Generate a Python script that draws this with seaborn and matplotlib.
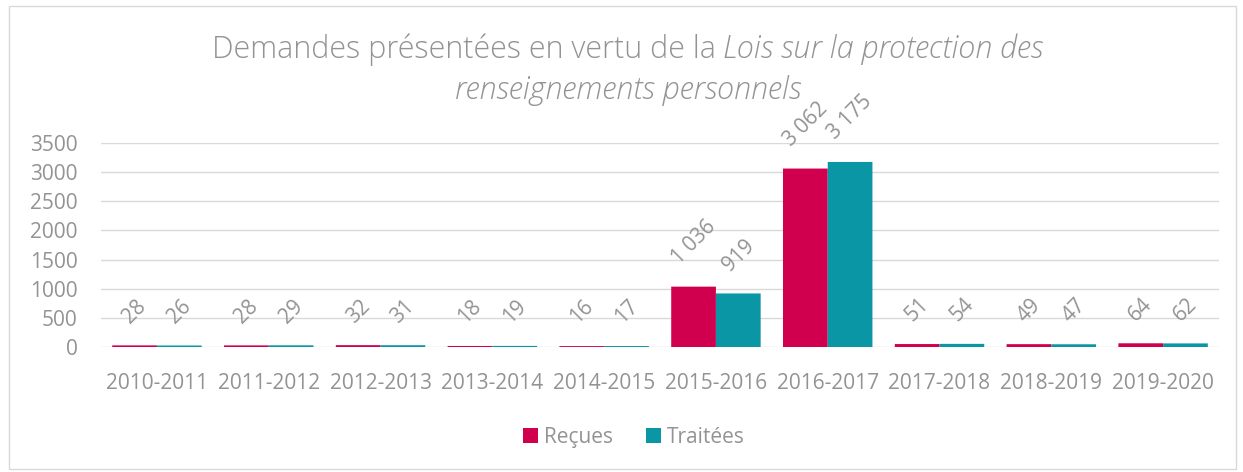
import pandas as pd
import seaborn as sns
import matplotlib.pyplot as plt
from matplotlib.patches import Rectangle

periodes = ['2010-2011', '2011-2012', '2012-2013', '2013-2014', '2014-2015',
            '2015-2016', '2016-2017', '2017-2018', '2018-2019', '2019-2020']
recues = [28, 28, 32, 18, 16, 1036, 3062, 51, 49, 64]
traitees = [26, 29, 31, 19, 17, 919, 3175, 54, 47, 62]
series = ['Reçues', 'Traitées']
couleurs = ['#D1004F', '#0A96A5']

df = pd.DataFrame({
    'periode': periodes * 2,
    'valeur': recues + traitees,
    'type': [series[0]] * len(periodes) + [series[1]] * len(periodes),
})

sns.set_theme(style='white')
plt.rcParams['font.family'] = ['Open Sans', 'DejaVu Sans']
gris = '#939393'

fig = plt.figure(figsize=(12.43, 4.72), dpi=100)
ax = fig.add_axes([0.0813, 0.2648, 0.8994, 0.4322])
sns.barplot(data=df, x='periode', y='valeur', hue='type', palette=couleurs,
            width=0.8, saturation=1, linewidth=0, ax=ax)
# les petites barres disparaissent sinon
for p in ax.patches:
    p.set_snap(False)

# etiquettes de donnees, inclinees comme dans Excel
def fmt(v):
    return f'{v:,}'.replace(',', ' ')

for cont, vals in zip(ax.containers, [recues, traitees]):
    ax.bar_label(cont, labels=[fmt(v) for v in vals], padding=13, rotation=45,
                 color=gris, fontsize=15)

ax.set_ylim(0, 3500)
ax.set_yticks(range(0, 3501, 500))
ax.yaxis.grid(True, color='#D9D9D9', lw=1)
ax.set_axisbelow(True)
ax.set_xlabel('')
ax.set_ylabel('')
ax.tick_params(axis='y', length=0, labelsize=15, labelcolor=gris, pad=17)
ax.tick_params(axis='x', length=0, labelsize=15, labelcolor=gris, pad=19)
sns.despine(ax=ax, left=True, bottom=True)

leg = ax.legend(loc='center', bbox_to_anchor=(0.51, 0.074), bbox_transform=fig.transFigure,
                ncol=2, frameon=False, handlelength=0.7, handleheight=0.7,
                handletextpad=0.3, columnspacing=1.6, fontsize=15)
for t in leg.get_texts():
    t.set_color(gris)

# titre : partie en italique
t1a = fig.text(0, 0.895, 'Demandes présentées en vertu de la ', fontsize=22, color=gris,
               va='center', fontweight='light')
t1b = fig.text(0, 0.895, 'Lois sur la protection des', fontsize=22, color=gris,
               va='center', style='italic', fontweight='light')
fig.text(0.505, 0.808, 'renseignements personnels', fontsize=22, color=gris,
         va='center', ha='center', style='italic', fontweight='light')
fig.canvas.draw()
r = fig.canvas.get_renderer()
w1 = t1a.get_window_extent(r).width
w2 = t1b.get_window_extent(r).width
W = fig.bbox.width
x0 = 0.505 * W - (w1 + w2) / 2
t1a.set_x(x0 / W)
t1b.set_x((x0 + w1) / W)

fig.patches.append(Rectangle((9 / 1243, 0.006), (1236 - 9) / 1243, 0.981,
                             transform=fig.transFigure, fill=False, ec='#D9D9D9', lw=1))

fig.savefig('out.png', dpi=100)
